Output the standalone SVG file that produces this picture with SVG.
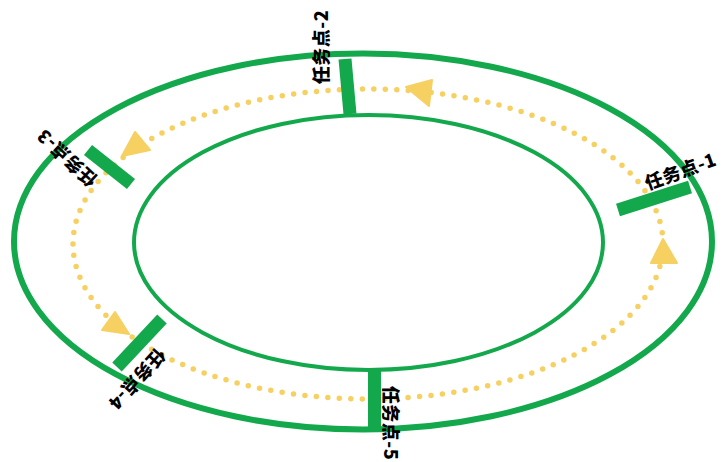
<svg xmlns="http://www.w3.org/2000/svg" width="723" height="462" viewBox="0 0 723 462">
<style>
.ring{fill:none;stroke:#13a84b}
.path{fill:none;stroke:#f6d061;stroke-width:5.5;stroke-linecap:round;stroke-dasharray:0 11.49}
.arrow{fill:#f6d061;stroke:#f6d061;stroke-width:2;stroke-linejoin:round}
.bar{stroke:#13a84b;stroke-width:13;stroke-linecap:butt}
.lbl{font-family:"Noto Sans CJK SC","Noto Sans",sans-serif;font-size:18px;font-weight:900;letter-spacing:0.5px;fill:#000;text-anchor:middle;dominant-baseline:central}
</style>
<rect width="723" height="462" fill="#fff"/>
<g id="track">
<ellipse class="ring" cx="363" cy="241.5" rx="349" ry="188" stroke-width="6"/>
<ellipse class="ring" cx="368.5" cy="242.5" rx="234.5" ry="127.5" stroke-width="4"/>
</g>
<g id="connectors">
<ellipse class="path" cx="368" cy="244" rx="295" ry="155"/>
<polygon class="arrow" points="406,87 432,80 429,106"/>
<polygon class="arrow" points="135,132 150,150 122,156"/>
<polygon class="arrow" points="115,312 102,330 129,334"/>
<polygon class="arrow" points="663,239 651,263 677,263"/>
</g>
<g id="node1">
<line class="bar" x1="618" y1="210" x2="690" y2="187"/>
<text class="lbl" transform="translate(680,170) rotate(-20)">任务点-1</text>
</g>
<g id="node2">
<line class="bar" x1="345" y1="59" x2="350" y2="114"/>
<text class="lbl" transform="translate(320,47) rotate(-90)">任务点-2</text>
</g>
<g id="node3">
<line class="bar" x1="88" y1="150" x2="131" y2="184"/>
<text class="lbl" transform="translate(66,159) rotate(-137)">任务点-3</text>
</g>
<g id="node4">
<line class="bar" x1="117" y1="367" x2="162" y2="319"/>
<text class="lbl" transform="translate(138,380) rotate(132)">任务点-4</text>
</g>
<g id="node5">
<line class="bar" x1="374.5" y1="368" x2="374.5" y2="428"/>
<text class="lbl" transform="translate(392,423) rotate(90)">任务点-5</text>
</g>
</svg>
